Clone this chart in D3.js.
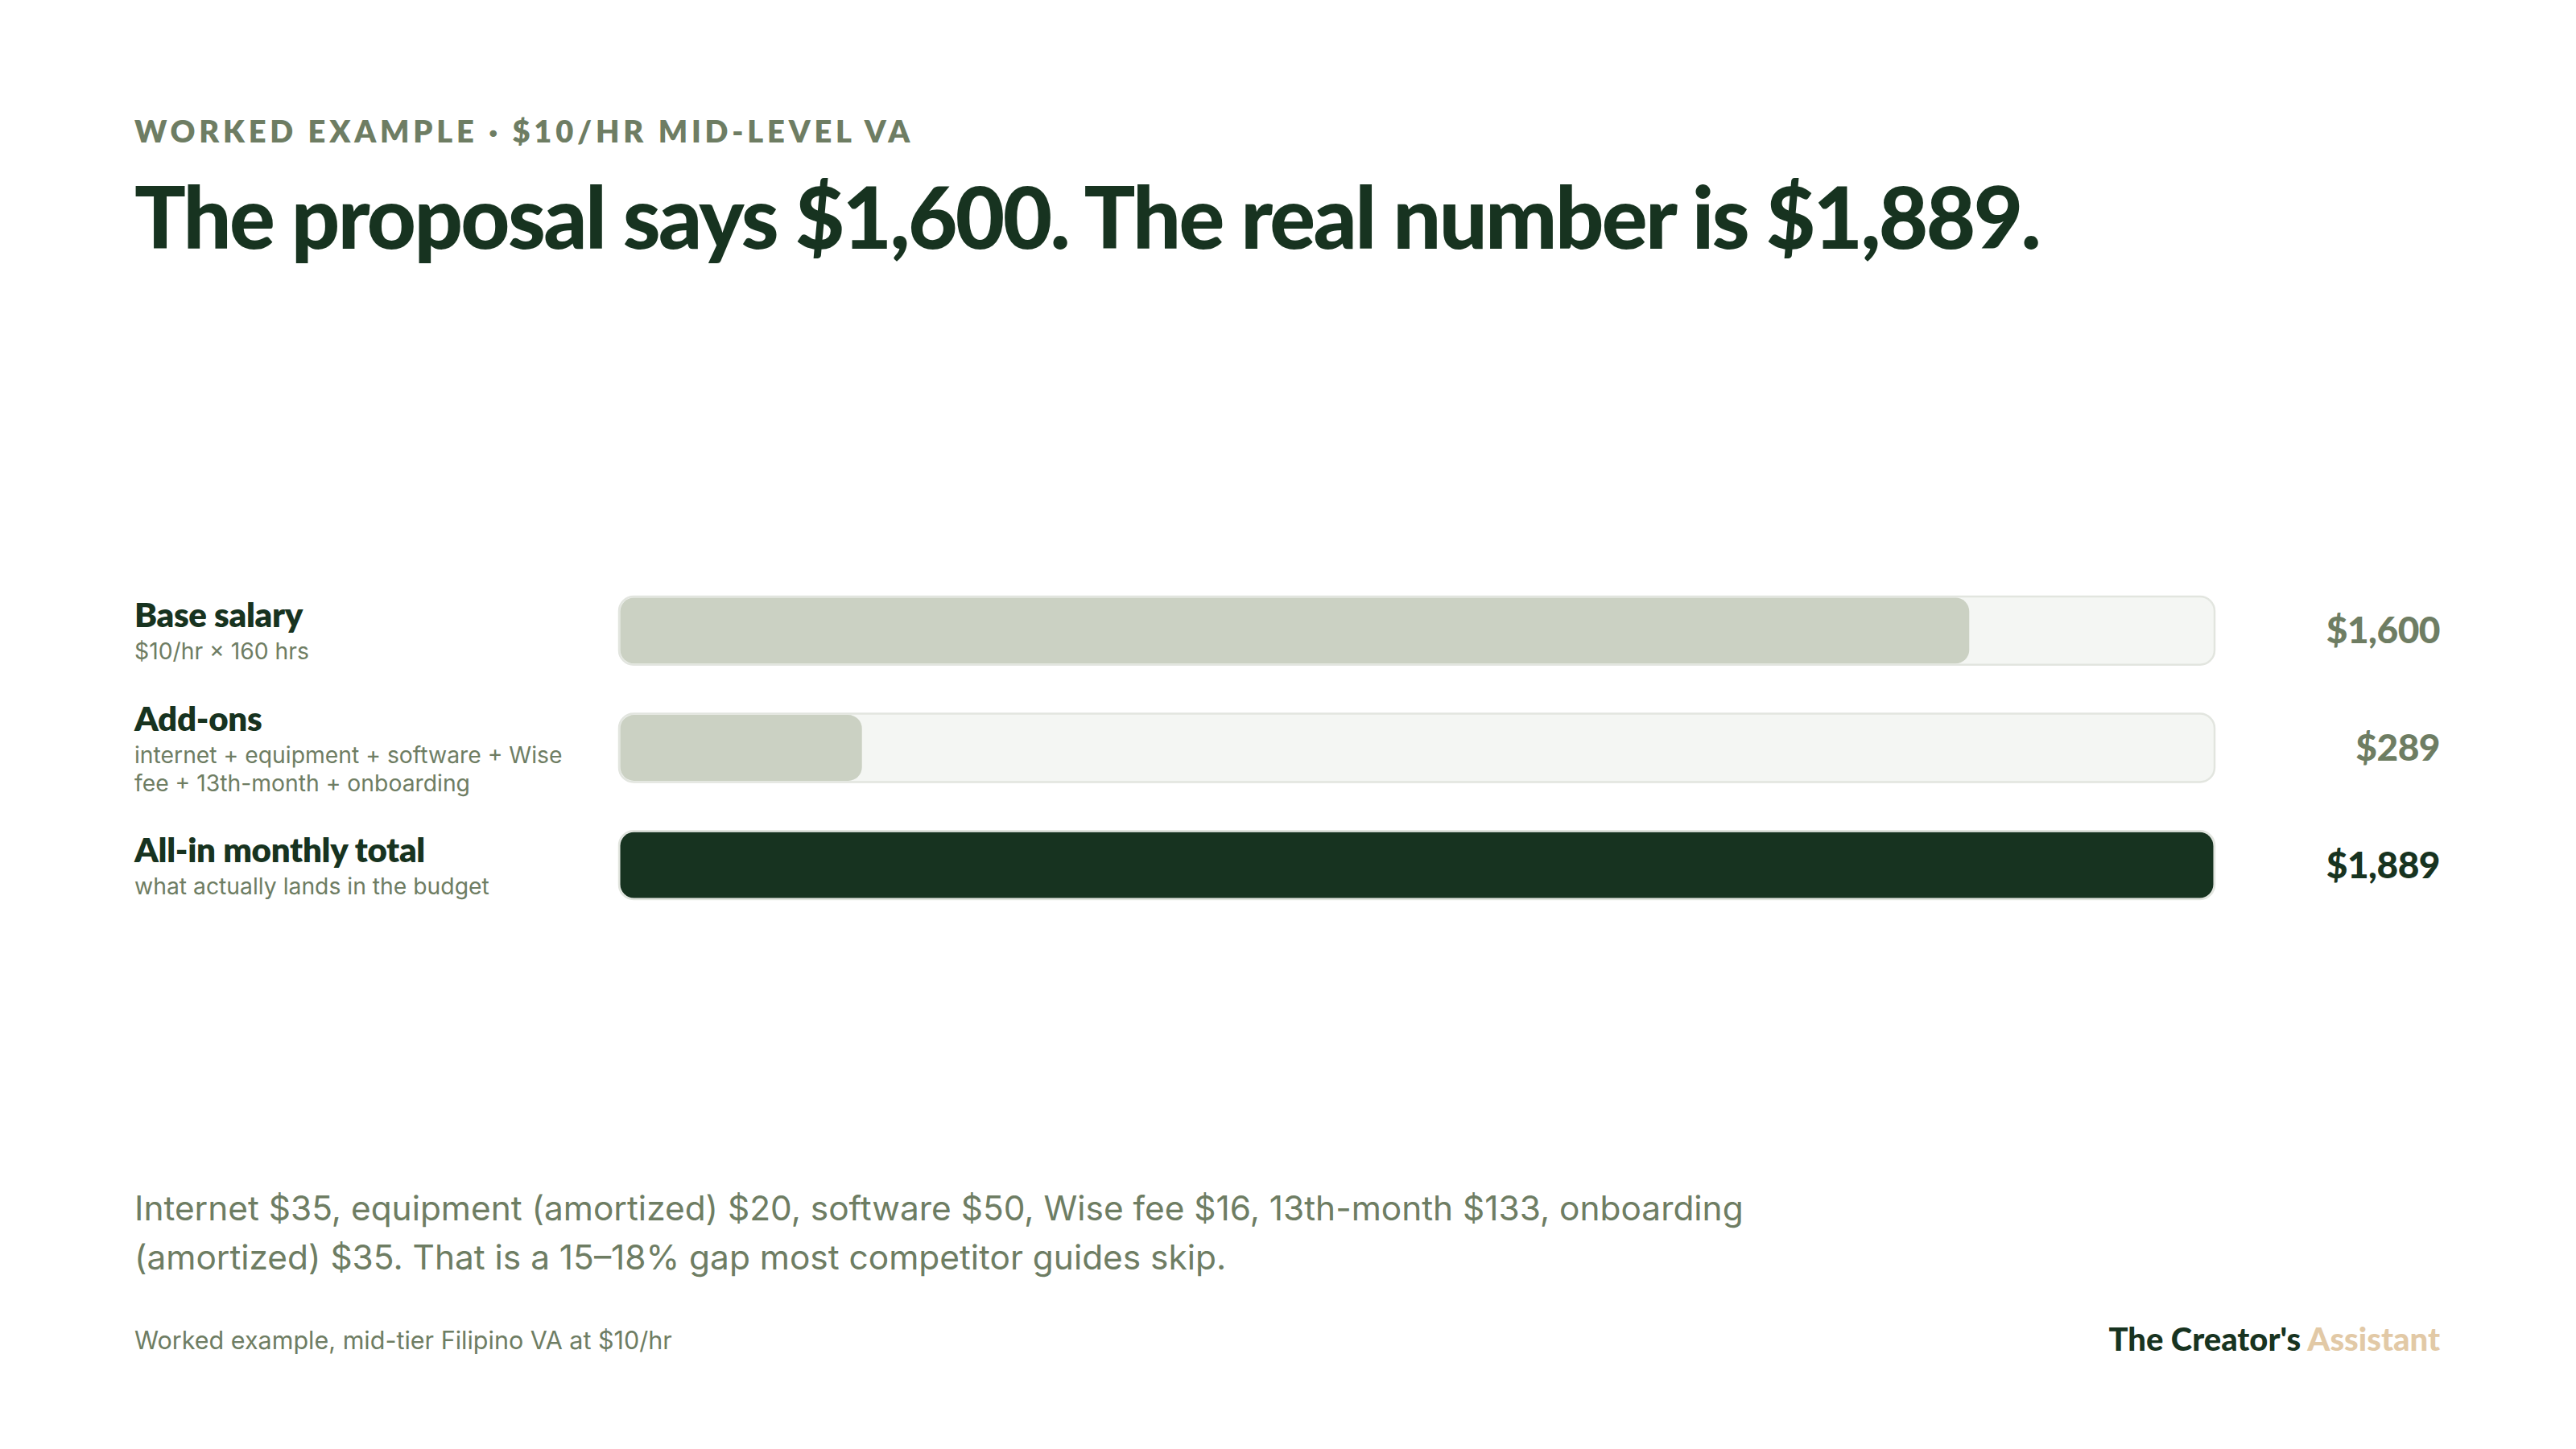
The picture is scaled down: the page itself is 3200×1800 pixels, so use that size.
<!DOCTYPE html>
<html>
<head>
<meta charset="utf-8">
<script src="https://cdn.jsdelivr.net/npm/d3@7"></script>
<style>
  html, body { margin: 0; padding: 0; background: #ffffff; }
  svg { display: block; }
</style>
</head>
<body>
<svg id="chart" width="3200" height="1800"></svg>
<script>
// data
const categories = ["Base salary", "Add-ons", "All-in monthly total"];
const subLabels = [
  ["$10/hr \u00d7 160 hrs"],
  ["internet + equipment + software + Wise", "fee + 13th-month + onboarding"],
  ["what actually lands in the budget"]
];
const values = [1600, 289, 1889];
const valueLabels = ["$1,600", "$289", "$1,889"];
const isTotal = [false, false, true];

const kicker = "WORKED EXAMPLE \u00b7 $10/HR MID-LEVEL VA";
const headline = "The proposal says $1,600. The real number is $1,889.";
const noteLines = [
  "Internet $35, equipment (amortized) $20, software $50, Wise fee $16, 13th-month $133, onboarding",
  "(amortized) $35. That is a 15\u201318% gap most competitor guides skip."
];
const source = "Worked example, mid-tier Filipino VA at $10/hr";

const dark = "#173320", muted = "#6e7d63", sage = "#cbd1c3",
      track = "#f4f6f3", trackLine = "#e2e5df", tan = "#e2c9a6";
const headFont = "Lato, 'Noto Sans', sans-serif";
const bodyFont = "Inter, 'Noto Sans', sans-serif";

var svg = d3.select("#chart");
var left = 167;

svg.append("text")
  .attr("x", left).attr("y", 177)
  .attr("font-family", headFont).attr("font-weight", 800)
  .attr("font-size", 38).attr("letter-spacing", "4.8px")
  .attr("fill", muted)
  .text(kicker);

svg.append("text")
  .attr("x", left).attr("y", 309)
  .attr("font-family", headFont).attr("font-weight", 900)
  .attr("font-size", 106).attr("letter-spacing", "-2.6px")
  .attr("fill", dark)
  .text(headline);

// scales
var x = d3.scaleLinear().domain([0, d3.max(values)]).range([769, 2751]);
var y = d3.scaleBand().domain(categories).range([741, 1117]).paddingInner(0.418);

var rows = svg.selectAll(".row")
  .data(categories)
  .enter().append("g")
  .attr("class", "row");

// background track
rows.append("rect")
  .attr("x", x(0)).attr("y", d => y(d))
  .attr("width", x.range()[1] - x(0)).attr("height", y.bandwidth())
  .attr("rx", 18)
  .attr("fill", track).attr("stroke", trackLine).attr("stroke-width", 2.5);

// value bar
rows.append("rect")
  .attr("x", x(0) + 1.5).attr("y", (d) => y(d) + 1.5)
  .attr("width", (d, i) => x(values[i]) - x(0) - 3)
  .attr("height", y.bandwidth() - 3)
  .attr("rx", 17)
  .attr("fill", (d, i) => isTotal[i] ? dark : sage);

// category label
rows.append("text")
  .attr("x", left)
  .attr("y", (d, i) => y(d) + y.bandwidth() / 2 - 4 - (subLabels[i].length - 1) * 17.5)
  .attr("font-family", headFont).attr("font-weight", 800)
  .attr("font-size", 42).attr("letter-spacing", "-0.3px")
  .attr("fill", dark)
  .text(d => d);

// sub labels
rows.each(function(d, i) {
  var base = y(d) + y.bandwidth() / 2 - 4 - (subLabels[i].length - 1) * 17.5;
  d3.select(this).selectAll(".sub")
    .data(subLabels[i])
    .enter().append("text")
    .attr("class", "sub")
    .attr("x", left)
    .attr("y", (s, j) => base + 40 + j * 35)
    .attr("font-family", bodyFont).attr("font-size", 28.3)
    .attr("fill", muted)
    .text(s => s);
});

// value labels
rows.append("text")
  .attr("x", 3031)
  .attr("y", d => y(d) + y.bandwidth() / 2 + 16)
  .attr("text-anchor", "end")
  .attr("font-family", headFont).attr("font-weight", 900)
  .attr("font-size", 46).attr("letter-spacing", "-0.5px")
  .attr("fill", (d, i) => isTotal[i] ? dark : muted)
  .text((d, i) => valueLabels[i]);

// note
svg.append("g").selectAll("text")
  .data(noteLines)
  .enter().append("text")
  .attr("x", left)
  .attr("y", (d, i) => 1516 + i * 61)
  .attr("font-family", bodyFont).attr("font-size", 42.4)
  .attr("fill", muted)
  .text(d => d);

svg.append("text")
  .attr("x", left).attr("y", 1676)
  .attr("font-family", bodyFont).attr("font-size", 30.5)
  .attr("fill", muted)
  .text(source);

var brand = svg.append("text")
  .attr("x", 3031).attr("y", 1678)
  .attr("text-anchor", "end")
  .attr("font-family", headFont).attr("font-weight", 900)
  .attr("font-size", 40)
  .attr("fill", dark);
brand.append("tspan").text("The Creator's ");
brand.append("tspan").attr("fill", tan).text("Assistant");
</script>
</body>
</html>
